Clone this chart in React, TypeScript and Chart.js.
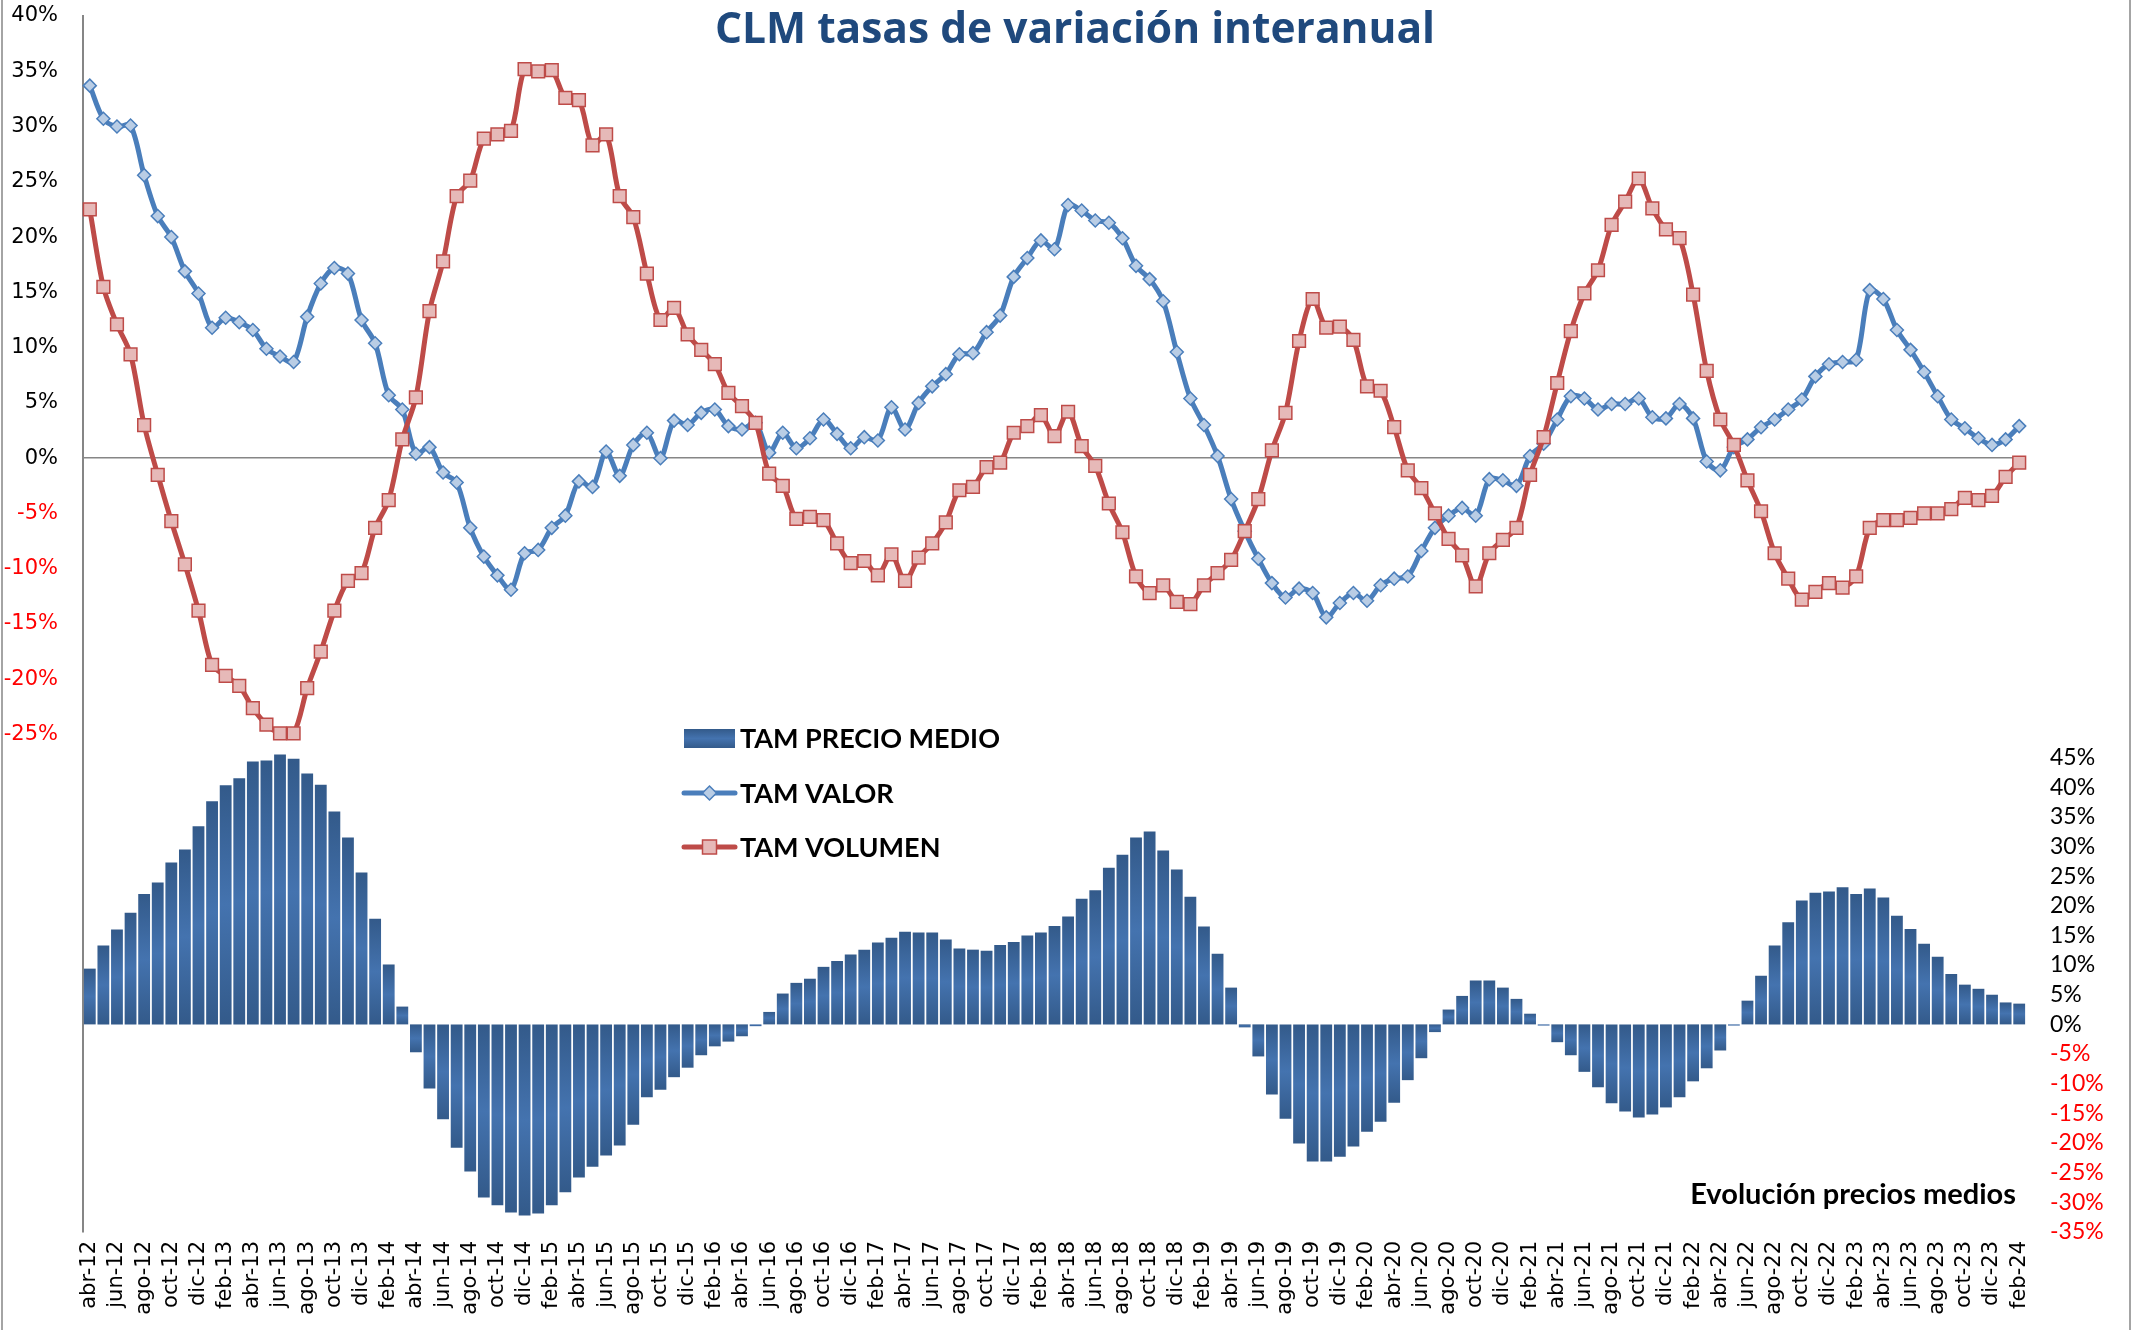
import React, { useEffect, useRef } from "react";
import { Chart, registerables } from "chart.js";

Chart.register(...registerables);

const TITLE = "CLM tasas de variación interanual";
const SUBTITLE = "Evolución precios medios";
const SERIES_NAMES = ["TAM PRECIO MEDIO", "TAM VALOR", "TAM VOLUMEN"];

const MONTHS = ["ene", "feb", "mar", "abr", "may", "jun", "jul", "ago", "sep", "oct", "nov", "dic"];
const START = { year: 2012, month: 3 }; // abr-12
const END = { year: 2024, month: 1 }; // feb-24

const categories: string[] = [];
for (let y = START.year; y <= END.year; y++) {
  const m0 = y === START.year ? START.month : 0;
  const m1 = y === END.year ? END.month : 11;
  for (let m = m0; m <= m1; m++) categories.push(`${MONTHS[m]}-${String(y).slice(2)}`);
}

const precioMedio = [
  9.4, 13.3, 16.0, 18.8, 22.0, 23.9, 27.3, 29.5, 33.4, 37.6, 40.3, 41.5, 44.3, 44.5, 45.5, 44.8, 42.3, 40.4, 35.9, 31.5,
  25.6, 17.8, 10.1, 3.0, -4.7, -10.8, -16.0, -20.8, -24.8, -29.2, -30.5, -31.7, -32.2, -31.9, -30.5, -28.3, -25.8, -24.0, -22.1, -20.4,
  -16.9, -12.3, -11.0, -8.9, -7.3, -5.2, -3.7, -2.9, -2.0, -0.3,
  2.1, 5.2, 7.0, 7.7, 9.7, 10.7, 11.8, 12.6, 13.8, 14.6, 15.6, 15.5, 15.5, 14.3, 12.8, 12.6, 12.4, 13.4, 13.9, 15.0,
  15.5, 16.6, 18.2, 21.2, 22.6, 26.4, 28.6, 31.5, 32.5, 29.3, 26.1, 21.5, 16.5, 11.9, 6.2, -0.5, -5.4, -11.8, -15.9, -20.1,
  -23.1, -23.1, -22.3, -20.6, -18.1, -16.4, -13.2, -9.4, -5.7, -1.3,
  2.5, 4.8, 7.4, 7.4, 6.2, 4.3, 1.8, -0.2, -3.0, -5.2, -8.0, -10.6, -13.3, -14.7, -15.7, -15.2, -14.0, -12.3, -9.6, -7.4,
  -4.4, -0.2, 4.0, 8.2, 13.3, 17.2, 20.9, 22.2, 22.4, 23.1, 22.0, 22.9, 21.4, 18.3, 16.1, 13.6, 11.4, 8.5, 6.7, 6.0,
  5.0, 3.7, 3.5,
];

const valor = [
  33.7, 30.7, 30.0, 30.1, 25.6, 21.9, 20.0, 16.9, 14.9, 11.8, 12.7, 12.3, 11.6, 9.9, 9.2, 8.7, 12.8, 15.8, 17.2, 16.7,
  12.5, 10.4, 5.7, 4.4, 0.4, 1.0, -1.3, -2.2, -6.3, -8.9, -10.6, -11.9, -8.6, -8.3, -6.3,
  -5.2, -2.1, -2.6, 0.6, -1.6, 1.2, 2.3, 0.0, 3.4, 3.0, 4.1, 4.4, 2.9, 2.6, 3.2, 0.5, 2.3, 0.9, 1.8, 3.5,
  2.2, 0.9, 1.9, 1.6, 4.6, 2.6, 5.0, 6.5, 7.6, 9.4, 9.5, 11.4, 12.9, 16.4, 18.1, 19.7, 18.9, 22.9, 22.4, 21.5,
  21.3, 19.9, 17.4, 16.2, 14.2, 9.6, 5.4, 3.0, 0.2, -3.7, -6.6, -9.1, -11.3, -12.6, -11.8, -12.2, -14.4, -13.1, -12.2, -12.9,
  -11.5, -10.9, -10.7, -8.4, -6.3, -5.2, -4.5, -5.2, -1.9, -2.0, -2.5, 0.2, 1.3, 3.5, 5.6, 5.4, 4.4, 4.9, 4.9, 5.4,
  3.7, 3.6, 4.9, 3.6, -0.3, -1.1, 1.0, 1.7, 2.8, 3.5, 4.4, 5.3, 7.4, 8.5, 8.7, 8.9, 15.2, 14.4, 11.6, 9.8,
  7.8, 5.6, 3.5, 2.7, 1.8, 1.2, 1.7, 2.9,
];

const volumen = [
  22.5, 15.5, 12.1, 9.4, 3.0, -1.5, -5.7, -9.6, -13.8, -18.7, -19.7, -20.6, -22.6, -24.1, -24.9, -24.9, -20.8, -17.5, -13.8, -11.1,
  -10.4, -6.3, -3.8, 1.7, 5.5, 13.3, 17.8, 23.7, 25.1, 28.9, 29.3, 29.6, 35.2, 35.0, 35.1,
  32.6, 32.4, 28.3, 29.3, 23.7, 21.8, 16.7, 12.5, 13.6, 11.2, 9.8, 8.5, 5.9, 4.7, 3.2, -1.4, -2.5, -5.5, -5.3, -5.6,
  -7.7, -9.5, -9.3, -10.6, -8.7, -11.1, -9.0, -7.7, -5.8, -2.9, -2.6, -0.8, -0.4, 2.3, 2.9, 3.9, 2.0, 4.2, 1.1, -0.7,
  -4.1, -6.7, -10.7, -12.2, -11.5, -13.0, -13.2, -11.5, -10.4, -9.2, -6.6, -3.7, 0.7, 4.1, 10.6, 14.4, 11.8, 11.9, 10.7, 6.5,
  6.1, 2.8, -1.1, -2.7, -5.0, -7.3, -8.8, -11.6, -8.6, -7.4, -6.3, -1.5, 1.9, 6.8, 11.5, 14.9, 17.0, 21.1, 23.2, 25.3,
  22.6, 20.7, 19.9, 14.8, 7.9, 3.5, 1.2, -2.0, -4.8, -8.6, -10.9, -12.8, -12.1, -11.3, -11.7, -10.7, -6.3, -5.6, -5.6, -5.4,
  -5.0, -5.0, -4.6, -3.6, -3.8, -3.4, -1.7, -0.4,
];

const LEFT_MIN = -70, LEFT_MAX = 40, LEFT_LOWEST_LABEL = -25;
const RIGHT_MIN = -35, RIGHT_MAX = 170, RIGHT_HIGHEST_LABEL = 45;

const W = 2134, H = 1330;
const BLUE = "#4A7EBB", BLUE_FILL = "#B9CDE5";
const RED = "#BE4B48", RED_FILL = "#E6B9B8";
const AXIS_GRAY = "#868686";

function barGradient(c: CanvasRenderingContext2D, yTop: number, yBot: number) {
  const g = c.createLinearGradient(0, yTop, 0, yBot);
  g.addColorStop(0, "#335A8A");
  g.addColorStop(0.5, "#4473AF");
  g.addColorStop(1, "#335A8A");
  return g;
}

const overlayPlugin = {
  id: "overlay",
  beforeDraw(chart: any) {
    const c = chart.ctx as CanvasRenderingContext2D;
    c.save();
    c.fillStyle = "#fff";
    c.fillRect(0, 0, W, H);
    c.strokeStyle = AXIS_GRAY;
    c.lineWidth = 1.5;
    c.beginPath();
    c.moveTo(2, 0);
    c.lineTo(2, H);
    c.moveTo(2130, 0);
    c.lineTo(2130, H);
    c.stroke();
    c.restore();
  },
  afterDraw(chart: any) {
    const c = chart.ctx as CanvasRenderingContext2D;
    c.save();
    // title
    c.font = 'bold 42.5px "Open Sans"';
    c.fillStyle = "#1F497D";
    c.textAlign = "center";
    c.textBaseline = "alphabetic";
    c.fillText(TITLE, 1075, 43);

    // legend
    const lx0 = 684, lx1 = 735, tx = 740;
    const rows = [738, 793, 847];
    c.fillStyle = barGradient(c, 729, 748);
    c.fillRect(lx0, 729, lx1 - lx0, 19);
    // VALOR sample
    c.lineCap = "round";
    c.strokeStyle = BLUE;
    c.lineWidth = 5;
    c.beginPath();
    c.moveTo(lx0, rows[1]);
    c.lineTo(lx1, rows[1]);
    c.stroke();
    const mx = (lx0 + lx1) / 2;
    c.beginPath();
    c.moveTo(mx - 7, rows[1]);
    c.lineTo(mx, rows[1] - 7);
    c.lineTo(mx + 7, rows[1]);
    c.lineTo(mx, rows[1] + 7);
    c.closePath();
    c.fillStyle = BLUE_FILL;
    c.fill();
    c.lineWidth = 1.5;
    c.stroke();
    // VOLUMEN sample
    c.strokeStyle = RED;
    c.lineWidth = 5;
    c.beginPath();
    c.moveTo(lx0, rows[2]);
    c.lineTo(lx1, rows[2]);
    c.stroke();
    c.fillStyle = RED_FILL;
    c.fillRect(mx - 7, rows[2] - 7, 14, 14);
    c.lineWidth = 1.5;
    c.strokeRect(mx - 7, rows[2] - 7, 14, 14);

    c.font = 'bold 27px "Lato"';
    c.fillStyle = "#000";
    c.textAlign = "left";
    c.textBaseline = "middle";
    SERIES_NAMES.forEach((n, i) => c.fillText(n, tx, rows[i] + 1));

    c.font = 'bold 29px "Lato"';
    c.textAlign = "right";
    c.fillText(SUBTITLE, 2016, 1195);
    c.restore();
  },
};

export default function App() {
  const ref = useRef<HTMLCanvasElement | null>(null);

  useEffect(() => {
    document.body.style.margin = "0";
    document.body.style.overflow = "hidden";
    const canvas = ref.current!;
    const chart = new Chart(canvas, {
      type: "bar",
      data: {
        labels: categories,
        datasets: [
          {
            type: "line",
            label: SERIES_NAMES[2],
            data: volumen,
            yAxisID: "y",
            order: 1,
            borderColor: RED,
            borderWidth: 5,
            tension: 0.3,
            pointStyle: "rect",
            pointRadius: 9,
            pointBorderWidth: 1.5,
            pointBackgroundColor: RED_FILL,
            pointBorderColor: RED,
          } as any,
          {
            type: "line",
            label: SERIES_NAMES[1],
            data: valor,
            yAxisID: "y",
            order: 2,
            borderColor: BLUE,
            borderWidth: 5,
            tension: 0.3,
            pointStyle: "rectRot",
            pointRadius: 6.5,
            pointBorderWidth: 1.5,
            pointBackgroundColor: BLUE_FILL,
            pointBorderColor: BLUE,
          } as any,
          {
            type: "bar",
            label: SERIES_NAMES[0],
            data: precioMedio,
            yAxisID: "y2",
            order: 3,
            categoryPercentage: 1,
            barPercentage: 0.87,
            borderWidth: 0,
            backgroundColor: (ctx: any) => {
              const chart = ctx.chart;
              const s = chart.scales && chart.scales.y2;
              if (!chart.chartArea || !s || ctx.type !== "data") return "#3E6AA5";
              const y0 = s.getPixelForValue(0);
              const y1 = s.getPixelForValue(ctx.raw);
              if (Math.abs(y1 - y0) < 2) return "#3E6AA5";
              return barGradient(chart.ctx, Math.min(y0, y1), Math.max(y0, y1));
            },
          } as any,
        ],
      },
      options: {
        responsive: false,
        animation: false,
        devicePixelRatio: 1,
        layout: { padding: { top: 16, left: 0, right: 0, bottom: 0 } },
        plugins: { legend: { display: false }, title: { display: false }, tooltip: { enabled: false } },
        scales: {
          x: {
            type: "category",
            offset: true,
            grid: { display: false, drawTicks: false },
            border: { display: false },
            ticks: {
              autoSkip: false,
              maxRotation: 90,
              minRotation: 90,
              padding: 9,
              color: "#000",
              font: { family: "DejaVu Sans", size: 21 },
              callback: (_v: any, i: number) => (i % 2 === 0 ? categories[i] : ""),
            },
            afterFit: (s: any) => {
              s.height = 98;
              s.paddingLeft = 0;
              s.paddingRight = 0;
            },
          },
          y: {
            position: "left",
            min: LEFT_MIN,
            max: LEFT_MAX,
            grid: {
              drawTicks: false,
              color: (ctx: any) => (ctx.tick && ctx.tick.value === 0 ? AXIS_GRAY : "rgba(0,0,0,0)"),
              lineWidth: 1.5,
            },
            border: { display: true, color: AXIS_GRAY, width: 2 },
            ticks: {
              stepSize: 5,
              autoSkip: false,
              padding: 25,
              font: { family: "DejaVu Sans", size: 21 },
              color: (ctx: any) => (ctx.tick && ctx.tick.value < 0 ? "#FF0000" : "#000"),
              callback: (v: any) => (Number(v) >= LEFT_LOWEST_LABEL ? `${v}%` : ""),
            },
            afterFit: (s: any) => {
              s.width = 83;
              s.paddingTop = 0;
              s.paddingBottom = 0;
            },
          },
          y2: {
            position: "right",
            min: RIGHT_MIN,
            max: RIGHT_MAX,
            grid: { display: false, drawTicks: false },
            border: { display: false },
            ticks: {
              stepSize: 5,
              autoSkip: false,
              padding: 24,
              font: { family: "Lato", size: 23 },
              color: (ctx: any) => (ctx.tick && ctx.tick.value < 0 ? "#FF0000" : "#000"),
              callback: (v: any) => (Number(v) <= RIGHT_HIGHEST_LABEL ? `${v}%` : ""),
            },
            afterFit: (s: any) => {
              s.width = W - 2026;
              s.paddingTop = 0;
              s.paddingBottom = 0;
            },
          },
        },
      } as any,
      plugins: [overlayPlugin],
    });
    return () => chart.destroy();
  }, []);

  return (
    <div style={{ position: "absolute", left: 0, top: 0, width: W, height: H }}>
      <canvas ref={ref} width={W} height={H} style={{ display: "block", width: W, height: H }} />
    </div>
  );
}
